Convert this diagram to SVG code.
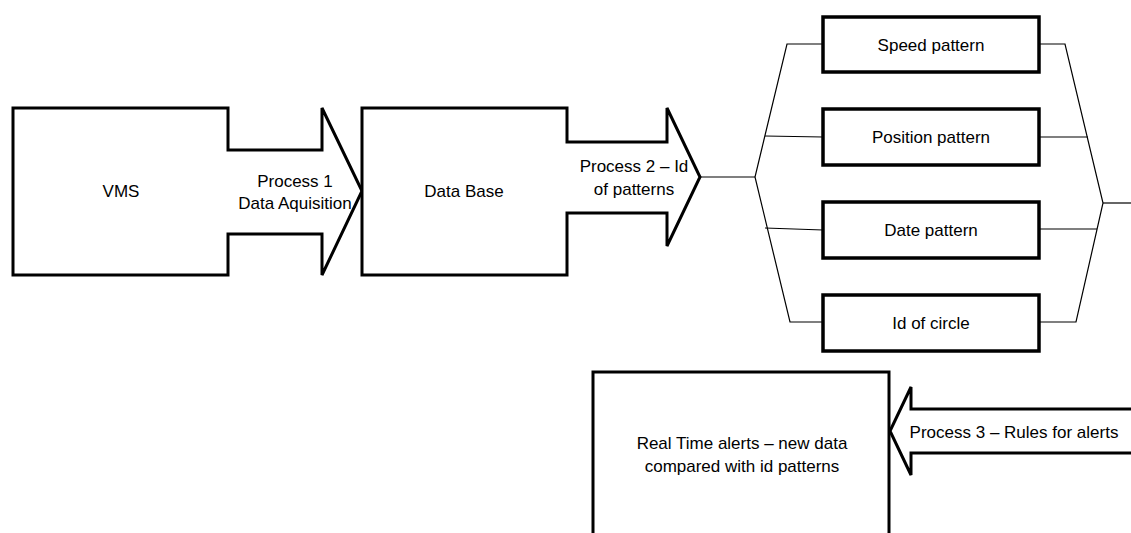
<svg xmlns="http://www.w3.org/2000/svg" width="1131" height="533" viewBox="0 0 1131 533">
<style>
.shape{fill:#fff;stroke:#000;stroke-width:3;stroke-linejoin:miter}
.box{fill:#fff;stroke:#000;stroke-width:3.5}
.conn{fill:none;stroke:#000;stroke-width:1.2}
text{font-family:"Liberation Sans",Arial,sans-serif;font-size:17px;fill:#000;text-anchor:middle}
</style>
<rect width="1131" height="533" fill="#fff"/>
<g id="connectors">
<path class="conn" d="M700,177 H755"/>
<path class="conn" d="M823,44 H787 L755,177 L790,322 H823"/>
<path class="conn" d="M765,136 L823,137"/>
<path class="conn" d="M765,228 L823,230"/>
<path class="conn" d="M1039,44 H1065 L1103,203 L1076,322 H1039"/>
<path class="conn" d="M1039,137 H1088"/>
<path class="conn" d="M1039,229 H1097"/>
<path class="conn" d="M1103,203 H1131"/>
</g>
<g id="vms">
<polygon class="shape" points="13,108 228,108 228,150 322,150 322,108 362,191 322,275 322,234 228,234 228,275 13,275"/>
<text x="121" y="197">VMS</text>
<text x="295" y="187">Process 1</text>
<text x="295" y="209">Data Aquisition</text>
</g>
<g id="database">
<polygon class="shape" points="362,108 567,108 567,142 667,142 667,108 700,177 667,246 667,213 567,213 567,275 362,275"/>
<text x="464" y="197">Data Base</text>
<text x="634" y="172">Process 2 – Id</text>
<text x="634" y="195">of patterns</text>
</g>
<g id="speed">
<rect class="box" x="823" y="17" width="216" height="55"/>
<text x="931" y="51">Speed pattern</text>
</g>
<g id="position">
<rect class="box" x="823" y="109" width="216" height="56"/>
<text x="931" y="143">Position pattern</text>
</g>
<g id="date">
<rect class="box" x="823" y="202" width="216" height="56"/>
<text x="931" y="236">Date pattern</text>
</g>
<g id="circle">
<rect class="box" x="823" y="295" width="216" height="56"/>
<text x="931" y="329">Id of circle</text>
</g>
<g id="alerts">
<rect class="shape" x="593" y="372" width="296" height="180"/>
<text x="742" y="449">Real Time alerts – new data</text>
<text x="742" y="472">compared with id patterns</text>
</g>
<g id="process3">
<polygon class="shape" points="1145,409 911,409 911,387 890,431 911,475 911,453 1145,453"/>
<text x="1014" y="438">Process 3 – Rules for alerts</text>
</g>
</svg>
